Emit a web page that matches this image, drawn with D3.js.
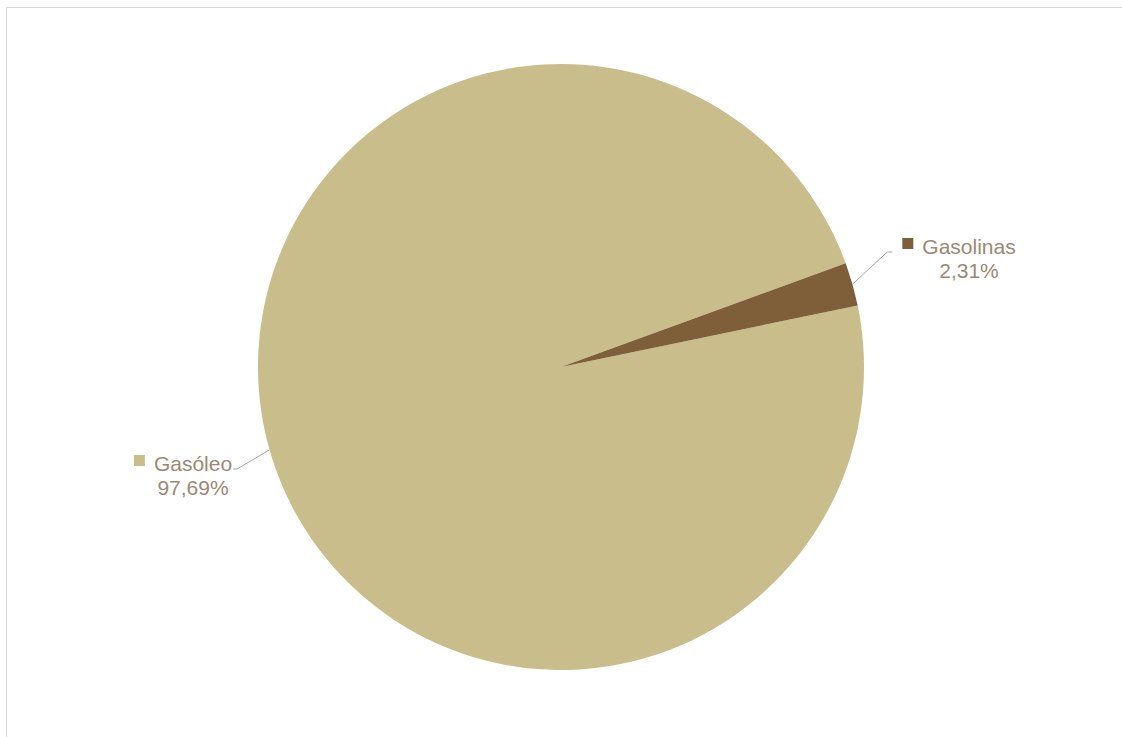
<!DOCTYPE html>
<html>
<head>
<meta charset="utf-8">
<script src="https://cdn.jsdelivr.net/npm/d3@7"></script>
<style>
  html, body { margin: 0; padding: 0; background: #fff; }
  svg { display: block; }
</style>
</head>
<body>
<svg id="chart" width="1122" height="737"></svg>
<script>
// Fuel share data
const categories = ["Gasóleo", "Gasolinas"];
const values = [97.69, 2.31];
const valueLabels = ["97,69%", "2,31%"];
const colors = ["#C9BE8B", "#7F5F3A"];

const svg = d3.select("#chart");

// chart area frame
svg.append("rect")
  .attr("x", 6.5).attr("y", 7.5)
  .attr("width", 1125).attr("height", 740)
  .attr("fill", "#fff")
  .attr("stroke", "#d9d9d9")
  .attr("stroke-width", 1);

const cx = 561, cy = 367, r = 303;
const firstAngle = 78.3 * Math.PI / 180;

const pie = d3.pie()
  .sort(null)
  .value(d => d)
  .startAngle(firstAngle)
  .endAngle(firstAngle + 2 * Math.PI);

const arcs = pie(values);
const arc = d3.arc().innerRadius(0).outerRadius(r);

const g = svg.append("g").attr("transform", `translate(${cx},${cy})`);
g.selectAll("path.slice")
  .data(arcs)
  .join("path")
  .attr("class", "slice")
  .attr("d", arc)
  .attr("fill", (d, i) => colors[i]);

// Data labels with leader lines
const labelPos = [
  { x: 193, y: 471, side: "left" },   // Gasóleo
  { x: 969, y: 254, side: "right" }   // Gasolinas
];
const font = "'Liberation Sans', Arial, sans-serif";
const textColor = "#9C8873";
const fs = 21;

arcs.forEach((d, i) => {
  const mid = (d.startAngle + d.endAngle) / 2;
  const ex = cx + Math.sin(mid) * r;
  const ey = cy - Math.cos(mid) * r;
  const lab = labelPos[i];
  const label = svg.append("g");
  const t1 = label.append("text")
    .attr("x", lab.x).attr("y", lab.y)
    .attr("text-anchor", "middle")
    .attr("font-family", font)
    .attr("font-size", fs)
    .attr("fill", textColor)
    .text(categories[i]);
  const bb = t1.node().getBBox();
  label.append("rect")
    .attr("x", bb.x - 20).attr("y", lab.y - 16)
    .attr("width", 11).attr("height", 11)
    .attr("fill", colors[i]);
  label.append("text")
    .attr("x", lab.x).attr("y", lab.y + 24)
    .attr("text-anchor", "middle")
    .attr("font-family", font)
    .attr("font-size", fs)
    .attr("fill", textColor)
    .text(valueLabels[i]);

  // leader line
  let pts;
  if (lab.side === "left") {
    const tx = bb.x + bb.width + 1;
    pts = [[tx, lab.y - 2], [tx + 4, lab.y - 2], [ex, ey]];
  } else {
    const tx = bb.x - 30;
    pts = [[tx, lab.y - 2], [tx - 5, lab.y - 2], [ex, ey]];
  }
  svg.append("path")
    .attr("d", d3.line()(pts))
    .attr("fill", "none")
    .attr("stroke", "#A6A6A6")
    .attr("stroke-width", 1);
});
</script>
</body>
</html>
